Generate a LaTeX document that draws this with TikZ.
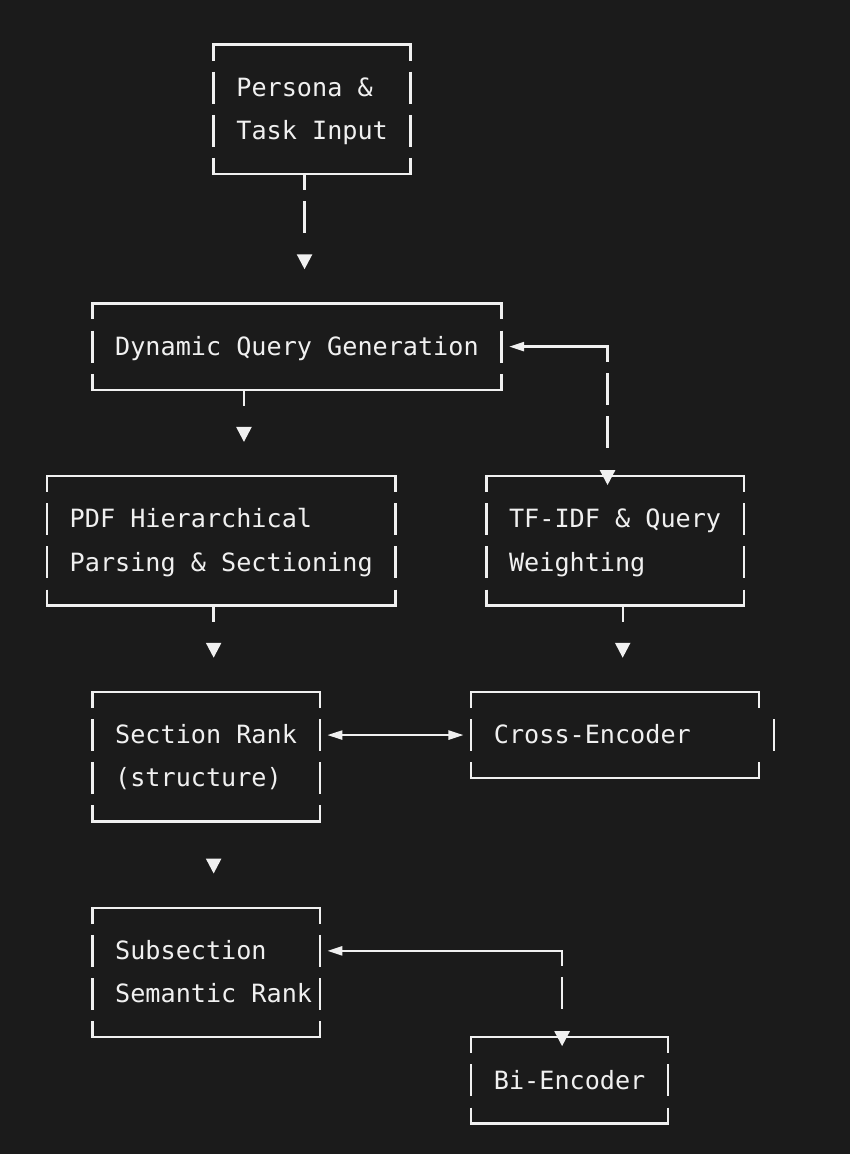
\documentclass[tikz,border=0pt]{standalone}
\usepackage{fontspec}
\newfontfamily\monofont{DejaVu Sans Mono}
\usetikzlibrary{arrows.meta}
\definecolor{bgc}{RGB}{27,27,27}
\definecolor{fgc}{RGB}{240,240,240}
\newcommand\setmono{\monofont\fontsize{25.16pt}{43.16pt}\selectfont}
\newcommand\ns{\spaceskip=0pt\relax\xspaceskip=0pt\relax}
\newcommand\asciibox[1]{%
  \draw[hline] (#1.north west) -- (#1.north east);
  \draw[hline] (#1.south west) -- (#1.south east);
  \draw[vside] (#1.north west) -- (#1.south west);
  \draw[vside] (#1.north east) -- (#1.south east);}
\begin{document}
\begin{tikzpicture}[x=15.15pt, y=-43.16pt,
  boxbase/.style={draw=none, inner sep=0pt, outer sep=0pt, align=left, text=fgc, font=\setmono},
  twoline/.style={boxbase, text height=20pt, text depth=45.76pt, minimum height=129.48pt},
  oneline/.style={boxbase, text height=20pt, text depth=2.6pt, minimum height=86.32pt},
  hline/.style={draw=fgc, line width=2.4pt, line cap=rect},
  vside/.style={draw=fgc, line width=2.4pt, dash pattern=on 32pt off 11.16pt, dash phase=16pt},
  bar/.style={draw=fgc, line width=2.4pt},
  vconn/.style={draw=fgc, line width=2.4pt, -{Triangle[length=15pt,width=15pt]}, shorten >=34.16pt},
  dbl/.style={draw=fgc, line width=2.4pt, {Triangle[length=15.15pt,width=9pt]}-{Triangle[length=15.15pt,width=9pt]}, shorten <=7.575pt, shorten >=7.575pt},
  loopconn/.style={draw=fgc, line width=2.4pt, {Triangle[length=15.15pt,width=9pt]}-{Triangle[length=15pt,width=15pt]}, shorten <=7.575pt, shorten >=-9pt}
]
\fill[bgc] (-3.1023,-1.03105) rectangle (53.0033,25.7066);
\useasboundingbox (-3.1023,-1.03105) rectangle (53.0033,25.7066);

% boxes
\node[twoline, minimum width=196.95pt, text width=151.5pt] (persona) at (17.5,1.5) {\ns\mbox{Persona \&}\\\mbox{Task Input}};
\node[oneline, minimum width=409.05pt, text width=363.6pt] (dyn) at (16.5,7) {\ns\mbox{Dynamic Query Generation}};
\node[twoline, minimum width=348.45pt, text width=303pt] (pdf) at (11.5,11.5) {\ns\mbox{PDF Hierarchical}\\\mbox{Parsing \& Sectioning}};
\node[twoline, minimum width=257.55pt, text width=212.1pt] (tf) at (37.5,11.5) {\ns\mbox{TF-IDF \& Query}\\\mbox{Weighting}};
\node[twoline, minimum width=227.25pt, text width=181.8pt] (section) at (10.5,16.5) {\ns\mbox{Section Rank}\\\mbox{(structure)}};
\node[oneline, minimum width=287.85pt, text width=242.4pt] (cross) at (37.5,16) {\ns\mbox{Cross-Encoder}};
\node[twoline, minimum width=227.25pt, text width=181.8pt] (sub) at (10.5,21.5) {\ns\mbox{Subsection}\\\mbox{Semantic Rank}};
\node[oneline, minimum width=196.95pt, text width=151.5pt] (bi) at (34.5,24) {\ns\mbox{Bi-Encoder}};

\asciibox{persona}
\asciibox{dyn}
\asciibox{pdf}
\asciibox{tf}
\asciibox{section}
\asciibox{sub}
\asciibox{bi}
% Cross-Encoder box (right side offset as printed)
\draw[hline] (cross.north west) -- (cross.north east);
\draw[hline] (cross.south west) -- (cross.south east);
\draw[vside] (cross.north west) -- (cross.south west);
\draw[bar] (cross.north east) -- ++(0pt,-16pt);
\draw[bar] (cross.south east) -- ++(0pt,16pt);
\draw[bar] ([xshift=15.15pt]cross.east) ++(0pt,16pt) -- ++(0pt,-32pt);

% column / corner coordinates
\coordinate (k17) at (17,0);
\coordinate (k13) at (13,0);
\coordinate (k11) at (11,0);
\coordinate (k38) at (38,0);
\coordinate (c1) at (37,7);
\coordinate (c2) at (34,21);

% connectors
\draw[vconn, dash pattern=on 16pt off 11.16pt on 32pt off 100pt] (persona.south -| k17) -- (dyn.north -| k17);
\draw[vconn, dash pattern=on 16pt off 100pt] (dyn.south -| k13) -- (pdf.north -| k13);
\draw[vconn, dash pattern=on 16pt off 100pt] (pdf.south -| k11) -- (section.north -| k11);
\draw[vconn, dash pattern=on 16pt off 100pt] (tf.south -| k38) -- (cross.north -| k38);
\draw[vconn, dash pattern=on 0pt off 100pt] (section.south -| k11) -- (sub.north -| k11);
\draw[dbl] (section.east |- cross.east) -- (cross.west);
\draw[loopconn, dash pattern=on 99.325pt off 11.16pt on 32pt off 11.16pt on 32pt off 100pt] (dyn.east) -- (c1) -- (tf.north -| c1);
\draw[loopconn, dash pattern=on 235.675pt off 11.16pt on 32pt off 100pt] (sub.east |- c2) -- (c2) -- (bi.north -| c2);
\end{tikzpicture}
\end{document}
